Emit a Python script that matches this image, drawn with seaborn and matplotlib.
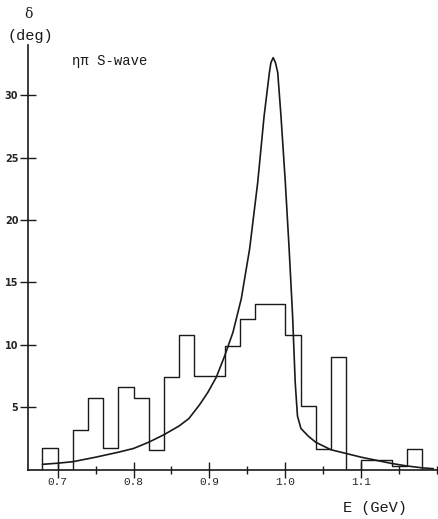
import numpy as np
import pandas as pd
import seaborn as sns
import matplotlib
matplotlib.use("Agg")
import matplotlib.pyplot as plt
from matplotlib.ticker import MultipleLocator

# histogram: lower bin edges (GeV) and phase shift in each bin (deg)
bin_lo = [0.66, 0.68, 0.70, 0.72, 0.74, 0.76, 0.78, 0.80, 0.82, 0.84, 0.86,
          0.88, 0.90, 0.92, 0.94, 0.96, 0.98, 1.00, 1.02, 1.04, 1.06, 1.08,
          1.10, 1.12, 1.14, 1.16, 1.18]
bin_delta = [0.0, 1.75, 0.0, 3.2, 5.75, 1.7, 6.6, 5.75, 1.6, 7.4, 10.8,
             7.5, 7.5, 9.9, 12.1, 13.3, 13.3, 10.8, 5.1, 1.66, 9.0, 0.0,
             0.77, 0.77, 0.3, 1.63, 0.0]
bin_width = 0.02

# fitted curve
curve_E = [0.680, 0.700, 0.720, 0.750, 0.780, 0.800, 0.820, 0.840, 0.860,
           0.873, 0.887, 0.898, 0.909, 0.920, 0.931, 0.942, 0.953, 0.9636,
           0.972, 0.979, 0.981, 0.984, 0.987, 0.990, 0.9943, 1.000, 1.005,
           1.0096, 1.013, 1.016, 1.0206, 1.030, 1.040, 1.060, 1.080, 1.100,
           1.120, 1.140, 1.160, 1.180, 1.195]
curve_delta = [0.43, 0.52, 0.64, 1.0, 1.4, 1.7, 2.2, 2.8, 3.5,
               4.1, 5.2, 6.2, 7.4, 9.1, 11.0, 13.7, 17.7, 23.0,
               28.3, 31.8, 32.6, 33.0, 32.6, 31.8, 28.3, 23.0, 17.7,
               12.3, 7.0, 4.3, 3.3, 2.7, 2.2, 1.6, 1.3, 1.0,
               0.75, 0.5, 0.3, 0.15, 0.08]

xticks = [0.7, 0.8, 0.9, 1.0, 1.1]
yticks = [5, 10, 15, 20, 25, 30]

sns.set_style("white")
ink = "#1a1a1a"
mono = ["Liberation Mono", "DejaVu Sans Mono"]

fig = plt.figure(figsize=(4.38, 5.19), dpi=100)
ax = fig.add_axes([0.064, 0.095, 0.934, 0.818])

hist_df = pd.DataFrame({"E": np.array(bin_lo) + bin_width / 2, "delta": bin_delta})
edges = list(bin_lo) + [bin_lo[-1] + bin_width]
sns.histplot(data=hist_df, x="E", weights="delta", bins=edges, element="step",
             fill=False, color=ink, linewidth=1.0, ax=ax)

curve_df = pd.DataFrame({"E": curve_E, "delta": curve_delta})
sns.lineplot(data=curve_df, x="E", y="delta", sort=False, estimator=None,
             color=ink, linewidth=1.2, ax=ax)

ax.set_xlim(0.661, 1.2)
ax.set_ylim(0, 34)
sns.despine(ax=ax)
for s in ["left", "bottom"]:
    ax.spines[s].set_color(ink)
    ax.spines[s].set_linewidth(1.2)

ax.set_xticks(xticks)
ax.set_xticklabels([f"{t:.1f}" for t in xticks], family=mono, fontsize=8)
ax.xaxis.set_minor_locator(MultipleLocator(0.05))
ax.set_yticks(yticks)
ax.set_yticklabels([str(t) for t in yticks], fontsize=7, fontweight="bold")
ax.tick_params(axis="x", which="major", direction="inout", length=11, width=1,
               color=ink, pad=0, bottom=True)
ax.tick_params(axis="x", which="minor", direction="inout", length=6, width=1,
               color=ink, bottom=True)
ax.tick_params(axis="y", which="major", direction="inout", length=12, width=1,
               color=ink, pad=1, left=True)
ax.set_xlabel("")
ax.set_ylabel("")

fig.text(28 / 438, 1 - 14 / 519, "δ", family=["DejaVu Serif"], fontsize=10,
         ha="center", va="center", color=ink)
fig.text(30 / 438, 1 - 36 / 519, "(deg)", family=mono, fontsize=11,
         ha="center", va="center", color=ink)
fig.text(72 / 438, 1 - 61 / 519, "ηπ S-wave", family=mono, fontsize=10,
         ha="left", va="center", color=ink)
fig.text(375 / 438, 1 - 508 / 519, "E (GeV)", family=mono, fontsize=11,
         ha="center", va="center", color=ink)

fig.savefig("out.png", dpi=100)
